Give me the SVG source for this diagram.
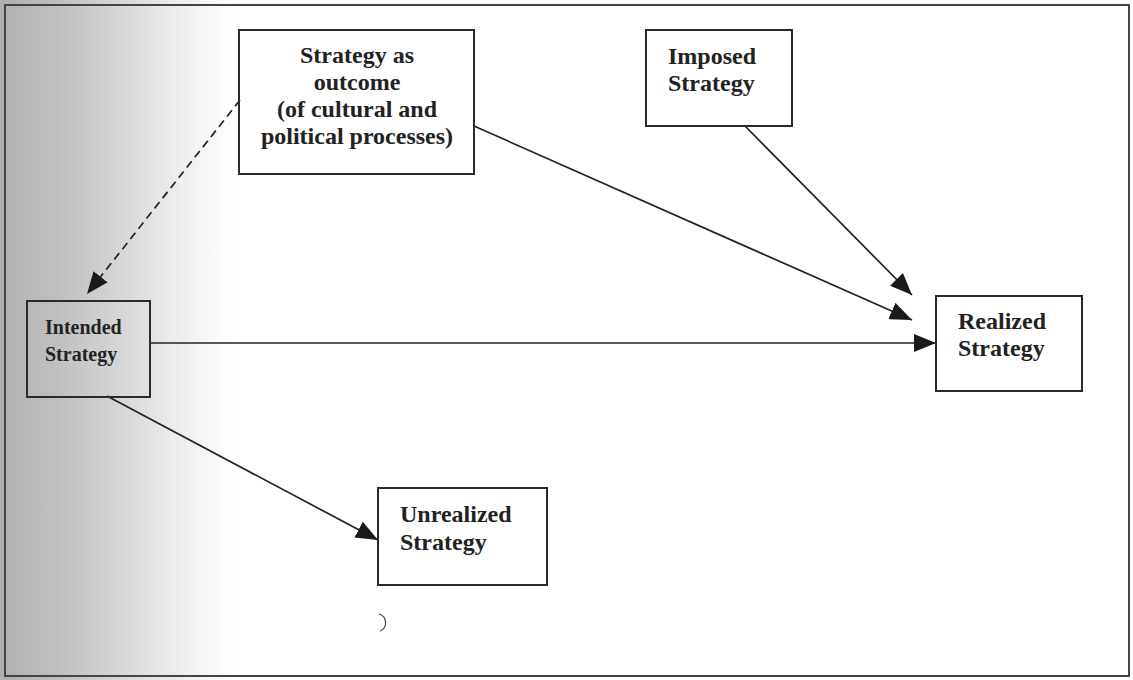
<svg xmlns="http://www.w3.org/2000/svg" width="1133" height="680" viewBox="0 0 1133 680">
  <style>
    .box { fill: none; stroke: #2a2a2a; stroke-width: 2; }
    .lbl { font-family: "Liberation Serif", "Times New Roman", serif; font-weight: bold; font-size: 24px; fill: #222; }
    .sm { font-size: 20px; }
    .edge { fill: none; stroke: #222; stroke-width: 1.7; }
    .dash { stroke-dasharray: 8 5; }
  </style>
  <defs>
    <linearGradient id="bg" x1="0" y1="0" x2="1" y2="0" gradientUnits="objectBoundingBox">
      <stop offset="0" stop-color="#b0b0b0"/>
      <stop offset="0.06" stop-color="#c0c0c0"/>
      <stop offset="0.12" stop-color="#d6d6d6"/>
      <stop offset="0.19" stop-color="#f2f2f2"/>
      <stop offset="0.235" stop-color="#ffffff"/>
      <stop offset="1" stop-color="#ffffff"/>
    </linearGradient>
    <marker id="ah" viewBox="0 0 22 18" refX="22" refY="9" markerWidth="22" markerHeight="18" markerUnits="userSpaceOnUse" orient="auto">
      <path d="M0,0 L22,9 L0,18 Z" fill="#1a1a1a"/>
    </marker>
  </defs>

  <rect x="0" y="0" width="1133" height="680" fill="#ffffff"/>
  <rect x="0" y="0" width="1000" height="680" fill="url(#bg)"/>
  <rect id="frame" x="5" y="5" width="1124" height="671" fill="none" stroke="#444" stroke-width="2"/>

  <g id="connectors">
    <line class="edge dash" x1="240" y1="100" x2="87" y2="294" marker-end="url(#ah)"/>
    <line class="edge" x1="474" y1="126" x2="912" y2="320" marker-end="url(#ah)"/>
    <line class="edge" x1="745" y1="126" x2="912" y2="295" marker-end="url(#ah)"/>
    <line class="edge" x1="150" y1="343" x2="936" y2="343" marker-end="url(#ah)"/>
    <line class="edge" x1="107" y1="396" x2="378" y2="540" marker-end="url(#ah)"/>
  </g>

  <g id="node-outcome">
    <rect class="box" x="239" y="30" width="235" height="144"/>
    <text class="lbl" x="357" y="63" text-anchor="middle">Strategy as</text>
    <text class="lbl" x="357" y="90" text-anchor="middle">outcome</text>
    <text class="lbl" x="357" y="117" text-anchor="middle">(of cultural and</text>
    <text class="lbl" x="357" y="144" text-anchor="middle">political processes)</text>
  </g>

  <g id="node-imposed">
    <rect class="box" x="646" y="30" width="146" height="96"/>
    <text class="lbl" x="668" y="64">Imposed</text>
    <text class="lbl" x="668" y="91">Strategy</text>
  </g>

  <g id="node-intended">
    <rect class="box" x="27" y="301" width="123" height="96"/>
    <text class="lbl sm" x="45" y="334">Intended</text>
    <text class="lbl sm" x="45" y="361">Strategy</text>
  </g>

  <g id="node-realized">
    <rect class="box" x="936" y="296" width="146" height="95"/>
    <text class="lbl" x="958" y="329">Realized</text>
    <text class="lbl" x="958" y="356">Strategy</text>
  </g>

  <g id="node-unrealized">
    <rect class="box" x="378" y="488" width="169" height="97"/>
    <text class="lbl" x="400" y="522">Unrealized</text>
    <text class="lbl" x="400" y="550">Strategy</text>
  </g>

  <path d="M379,614 A9,9 0 0 1 380,631" fill="none" stroke="#444" stroke-width="1.2"/>
</svg>
